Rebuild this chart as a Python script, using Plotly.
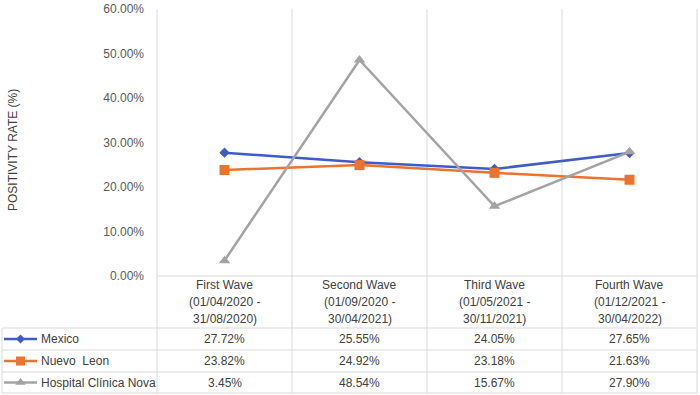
import plotly.graph_objects as go

# ---------------- data ----------------
category_lines = [
    ["First Wave", "(01/04/2020 -", "31/08/2020)"],
    ["Second Wave", "(01/09/2020 -", "30/04/2021)"],
    ["Third Wave", "(01/05/2021 -", "30/11/2021)"],
    ["Fourth Wave", "(01/12/2021 -", "30/04/2022)"],
]
series_names = ["Mexico", "Nuevo  Leon", "Hospital Clínica Nova"]
mexico = [27.72, 25.55, 24.05, 27.65]
nuevo_leon = [23.82, 24.92, 23.18, 21.63]
hospital = [3.45, 48.54, 15.67, 27.90]
y_ticks = [0, 10, 20, 30, 40, 50, 60]
y_tick_labels = ["0.00%", "10.00%", "20.00%", "30.00%", "40.00%", "50.00%", "60.00%"]
y_title = "POSITIVITY RATE (%)"

# ---------------- style ----------------
W, H = 700, 395
colors = ["#3F5BC8", "#EB7330", "#A3A3A3"]
symbols = ["diamond", "square", "triangle-up"]
msizes = [8, 10, 10]
grid = "#D9D9D9"
txt = "#404040"
FONT = "Liberation Sans, Arial, sans-serif"

PL, PR, PT, PB = 157, 697, 9, 276          # plot area in pixels
TABLE_LEFT = 2
ROW_BOUNDS = [328, 350, 372, 393]
HEADER_LINE_Y = [285, 302, 319]


def px(x):
    return x / W


def py(y):
    return 1 - y / H


series = [mexico, nuevo_leon, hospital]
n = len(category_lines)
xs = list(range(n))
col_w = (PR - PL) / n

fig = go.Figure()

for name, vals, c, s, ms in zip(series_names, series, colors, symbols, msizes):
    fig.add_trace(go.Scatter(
        x=xs, y=vals, mode="lines+markers", name=name,
        xaxis="x", yaxis="y",
        line=dict(color=c, width=2.5),
        marker=dict(symbol=s, size=ms, color=c),
        cliponaxis=False, showlegend=False, hoverinfo="skip",
    ))

shapes = []
for k in range(n + 1):
    x = PL + k * col_w
    shapes.append(dict(type="line", xref="paper", yref="paper",
                       x0=px(x), x1=px(x), y0=py(PT), y1=py(ROW_BOUNDS[-1]),
                       line=dict(color=grid, width=1), layer="below"))
shapes.append(dict(type="line", xref="paper", yref="paper",
                   x0=px(PL), x1=px(PR), y0=py(PB), y1=py(PB),
                   line=dict(color=grid, width=1), layer="below"))
for yb in ROW_BOUNDS:
    shapes.append(dict(type="line", xref="paper", yref="paper",
                       x0=px(TABLE_LEFT), x1=px(PR), y0=py(yb), y1=py(yb),
                       line=dict(color=grid, width=1), layer="below"))
shapes.append(dict(type="line", xref="paper", yref="paper",
                   x0=px(TABLE_LEFT), x1=px(TABLE_LEFT),
                   y0=py(ROW_BOUNDS[0]), y1=py(ROW_BOUNDS[-1]),
                   line=dict(color=grid, width=1), layer="below"))

annotations = []
for k, lines in enumerate(category_lines):
    cx = PL + (k + 0.5) * col_w
    for line, ly in zip(lines, HEADER_LINE_Y):
        annotations.append(dict(x=px(cx), y=py(ly), xref="paper", yref="paper",
                                text=line, showarrow=False, xanchor="center",
                                yanchor="middle", font=dict(size=12, color=txt)))
for r, (name, vals, c, s, ms) in enumerate(zip(series_names, series, colors, symbols, msizes)):
    yc = (ROW_BOUNDS[r] + ROW_BOUNDS[r + 1]) / 2
    annotations.append(dict(x=px(39), y=py(yc), xref="paper", yref="paper",
                            text=name.replace("  ", "\u00a0 "), showarrow=False,
                            xanchor="left", yanchor="middle",
                            font=dict(size=12, color=txt)))
    for k, v in enumerate(vals):
        cx = PL + (k + 0.5) * col_w
        annotations.append(dict(x=px(cx), y=py(yc), xref="paper", yref="paper",
                                text=f"{v:.2f}%", showarrow=False,
                                xanchor="center", yanchor="middle",
                                font=dict(size=12, color=txt)))
    fig.add_trace(go.Scatter(
        x=[4, 37], y=[yc, yc], mode="lines", xaxis="x2", yaxis="y2",
        line=dict(color=c, width=2.5), showlegend=False, hoverinfo="skip",
    ))
    fig.add_trace(go.Scatter(
        x=[20.5], y=[yc], mode="markers", xaxis="x2", yaxis="y2",
        marker=dict(symbol=s, size=ms - 1, color=c),
        showlegend=False, hoverinfo="skip",
    ))

annotations.append(dict(x=px(13), y=py(150), xref="paper", yref="paper",
                        text=y_title, textangle=-90, showarrow=False,
                        xanchor="center", yanchor="middle",
                        font=dict(size=12, color=txt)))

fig.update_layout(
    width=W, height=H,
    margin=dict(l=0, r=0, t=0, b=0, autoexpand=False),
    paper_bgcolor="white", plot_bgcolor="rgba(0,0,0,0)",
    font=dict(family=FONT, color=txt),
    showlegend=False,
    shapes=shapes, annotations=annotations,
    xaxis=dict(domain=[px(PL), px(PR)], range=[-0.5, n - 0.5],
               showticklabels=False, showgrid=False, zeroline=False,
               showline=False, ticks="", anchor="y"),
    yaxis=dict(domain=[py(PB), py(PT)], range=[0, 60], tickmode="array",
               tickvals=y_ticks, ticktext=y_tick_labels, showgrid=False,
               zeroline=False, showline=False, ticks="",
               ticklabelstandoff=12, anchor="x", automargin=False,
               tickfont=dict(size=12, color="#595959")),
    xaxis2=dict(domain=[0, 1], range=[0, W], visible=False, anchor="y2"),
    yaxis2=dict(domain=[0, 1], range=[H, 0], visible=False, anchor="x2"),
)

fig.write_html("out.html", config={"displayModeBar": False},
               post_script="document.body.style.margin='0';")
